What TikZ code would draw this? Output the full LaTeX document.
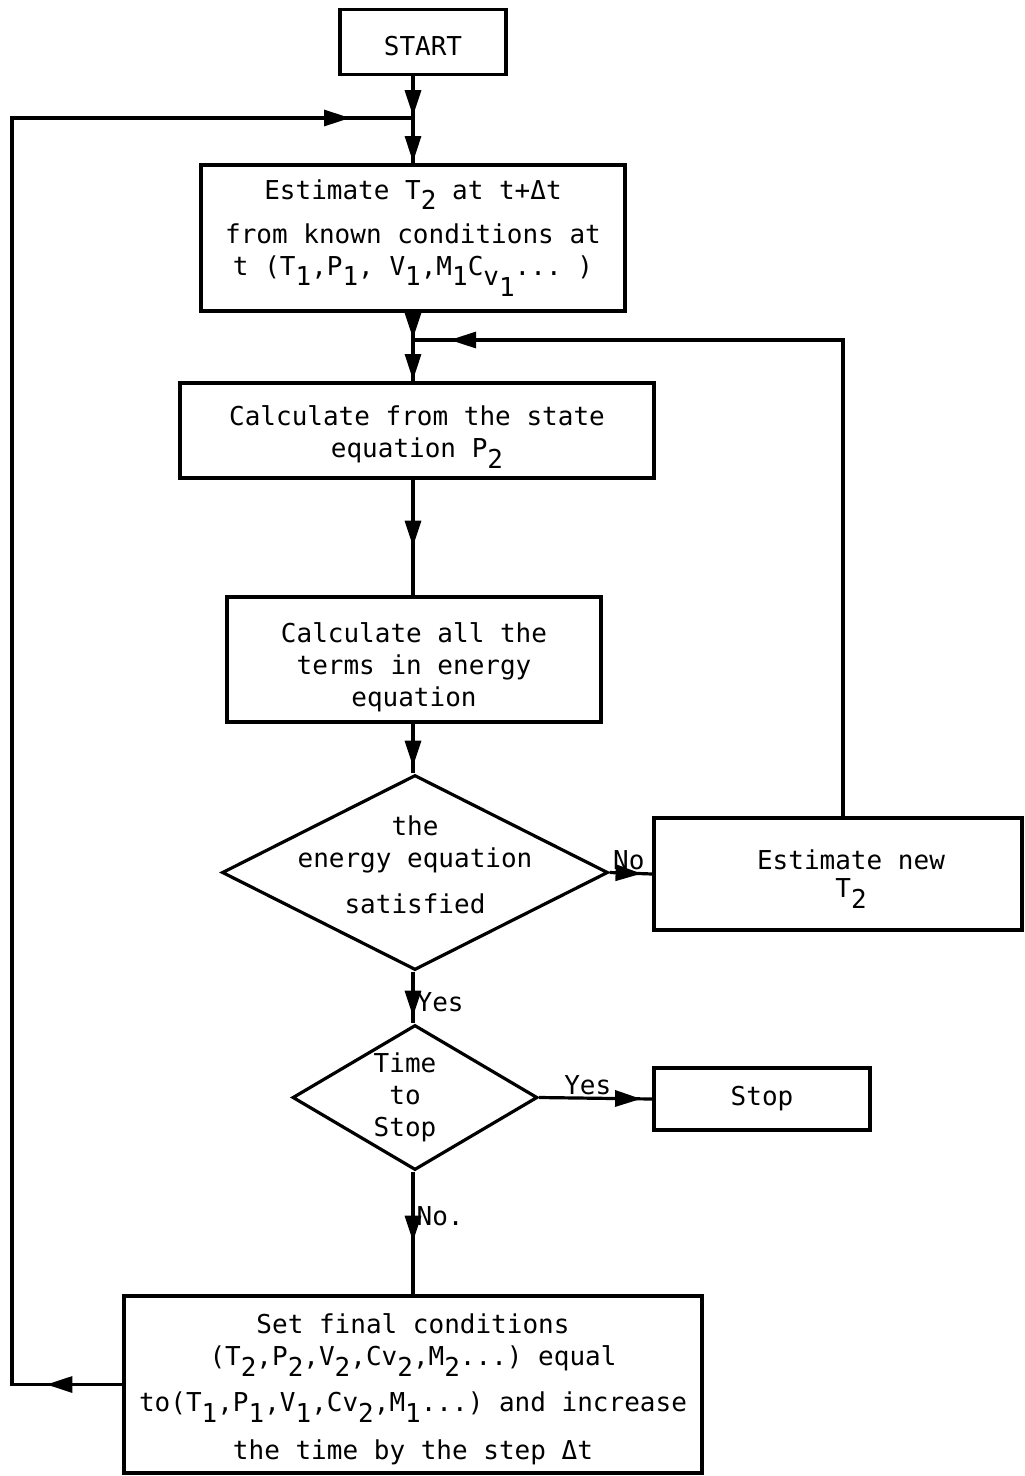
\documentclass[tikz,border=0pt]{standalone}
\usepackage{fontspec}
\setmonofont{DejaVu Sans Mono}
\usetikzlibrary{shapes.geometric,arrows.meta,decorations.markings}
\newcommand\dn[1]{\raisebox{-0.75ex}{#1}}
\begin{document}
\begin{tikzpicture}[x=1pt,y=-1pt,
  every node/.style={font=\ttfamily\fontsize{26}{32}\selectfont},
  box/.style={draw, line width=3.2pt, inner sep=0pt, align=center},
  dia/.style={draw, diamond, line width=3.2pt, inner sep=0pt},
  conn/.style={line width=3.2pt},
  midarr/.style={postaction={decorate,decoration={markings,
      mark=at position #1 with {\arrow{Triangle[length=26pt,width=16pt]}}}}},
  lbl/.style={inner sep=2pt}
]
\useasboundingbox (0,0) rectangle (1025,1476);

% nodes
\node[box, minimum width=166, minimum height=65] (start) at (423,42) {\rule{0pt}{27pt}START};
\node[box, minimum width=424, minimum height=146] (est) at (413,238)
  {Estimate T\dn{2} at t+Δt\\[12pt]from known conditions at\\t (T\dn{1},P\dn{1}, V\dn{1},M\dn{1}C\dn{v\dn{1}}... )};
\node[box, minimum width=474, minimum height=95] (calcP) at (417,430.5)
  {\rule{0pt}{33pt}Calculate from the state\\equation P\dn{2}};
\node[box, minimum width=374, minimum height=125] (calcE) at (414,659.5)
  {\rule{0pt}{35pt}Calculate all the\\terms in energy\\equation};
\node[dia, minimum width=386, minimum height=195,
  label={[align=center,yshift=8pt]center:{the\\energy equation\\[14pt]satisfied}}] (dia1) at (415,872.5) {};
\node[box, minimum width=368, minimum height=112] (newT) at (838,874)
  {\rule{0pt}{30pt}\hspace*{26pt}Estimate new\\[-4pt]\hspace*{26pt}T\dn{2}};
\node[dia, minimum width=245, minimum height=145,
  label={[align=center,xshift=-10pt]center:{Time\\to\\Stop}}] (dia2) at (415,1097.5) {};
\node[box, minimum width=216, minimum height=62] (stop) at (762,1099) {Stop};
\node[box, minimum width=578, minimum height=177] (final) at (413,1384.5)
  {\rule{0pt}{30pt}Set final conditions\\(T\dn{2},P\dn{2},V\dn{2},Cv\dn{2},M\dn{2}...) equal\\[14pt]to(T\dn{1},P\dn{1},V\dn{1},Cv\dn{2},M\dn{1}...) and increase\\[16pt]the time by the step Δt};

% junction coordinates
\coordinate (jt) at (413,118);
\coordinate (lt) at (12,118);
\coordinate (jm) at (413,340);
\coordinate (rt) at (843,340);

% connectors
\draw[conn, midarr=40pt] (start.south -| jt) -- (jt);
\draw[conn, midarr=44pt] (jt) -- (est.north -| jt);
\draw[conn, midarr=76pt, midarr=-63pt] (final.west) -- (final.west -| lt) -- (lt) -- (jt);
\draw[conn, midarr=26pt] (est.south -| jm) -- (jm);
\draw[conn, midarr=40pt] (jm) -- (calcP.north -| jm);
\draw[conn, midarr=-37pt] (newT.north -| rt) -- (rt) -- (jm);
\draw[conn, midarr=67pt] (calcP.south -| jm) -- (calcE.north -| jm);
\draw[conn, midarr=43pt] (calcE.south -| jm) -- (dia1.north -| jm);
\draw[conn, midarr=32pt] (dia1.east) -- (newT.west)
  node[lbl, above, pos=0.45] (lno) {No};
\draw[conn, midarr=45pt] (dia1.south -| jm) -- (dia2.north -| jm)
  node[lbl, right, pos=0.6] (lyes) {Yes};
\draw[conn, midarr=102pt] (dia2.east) -- (stop.west)
  node[lbl, above, pos=0.43] (lyes2) {Yes};
\draw[conn, midarr=70pt] (dia2.south -| jm) -- (final.north -| jm)
  node[lbl, right, pos=0.36] (lno2) {No.};
\end{tikzpicture}
\end{document}
